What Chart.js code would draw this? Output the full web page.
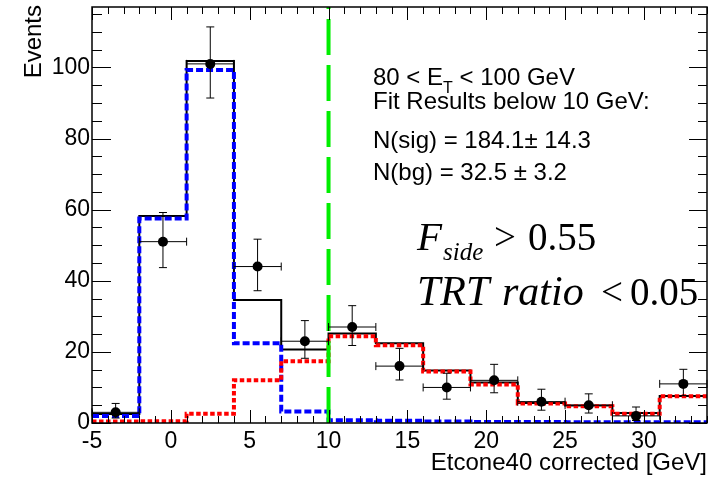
<!DOCTYPE html>
<html>
<head>
<meta charset="utf-8">
<title>Etcone40 corrected</title>
<script src="https://cdn.jsdelivr.net/npm/chart.js@4.4.1/dist/chart.umd.min.js"></script>
<style>
  html, body { margin: 0; padding: 0; background: #fff; }
</style>
</head>
<body>
<canvas id="etcone" width="720" height="480"></canvas>
<script>
// histogram binning [GeV]
var binEdges = [-5, -2, 1, 4, 7, 10, 13, 16, 19, 22, 25, 28, 31, 34];

// data, events per bin with (asymmetric) errors
var dataEvents = [3, 51, 101, 44, 23, 27, 16, 10, 12, 6, 5, 2, 11];
var errUp      = [2.5, 8.2, 10.4, 7.7, 5.8, 6.0, 5.0, 4.0, 4.5, 3.5, 3.2, 2.5, 4.1];
var errDown    = [1.6, 7.3, 9.6, 6.8, 4.8, 5.2, 3.9, 3.3, 3.5, 2.4, 2.2, 1.3, 3.3];

// fit templates
var fitTotal      = [2.5, 58.2, 101.8, 34.6, 20.7, 25.2, 22.4, 14.8, 11.4, 5.6, 4.9, 2.8, 7.6];
var fitSignal     = [2.0, 57.5, 99.3, 22.4, 3.2, 0.8, 0.6, 0.4, 0.3, 0.25, 0.2, 0.2, 0.2];
var fitBackground = [0.4, 0.5, 2.6, 12.0, 17.4, 24.4, 21.9, 14.5, 10.8, 5.5, 4.7, 2.6, 7.5];

var cutValue = 10; // fit region upper edge

var xRange = [-5, 34], yRange = [0, 117];
var xMajor = 5, xMinor = 1, yMajor = 20, yMinor = 5;

var infoLines = ['Fit Results below 10 GeV:', 'N(sig) = 184.1\u00b1 14.3', 'N(bg) = 32.5 \u00b1 3.2'];

var SANS = '"Liberation Sans", Arial, sans-serif';
var SERIF = '"Liberation Serif", "Times New Roman", serif';

// outline points for a stepped histogram
function histPoints(vals) {
    var pts = [];
    for (var i = 0; i < vals.length; i++) {
        pts.push({ x: binEdges[i], y: vals[i] });
    }
    pts.push({ x: binEdges[vals.length], y: vals[vals.length - 1] });
    return pts;
}

var dataPoints = dataEvents.map(function (v, i) {
    return { x: (binEdges[i] + binEdges[i + 1]) / 2, y: v };
});

function histSet(label, vals, color, width, dash) {
    return {
        label: label,
        data: histPoints(vals),
        borderColor: color,
        borderWidth: width,
        borderDash: dash,
        borderCapStyle: 'butt',
        stepped: true,
        fill: false,
        pointRadius: 0,
        pointHitRadius: 0
    };
}

// frame, inner ticks, cut line, error bars and labels
var decorations = {
    id: 'decorations',
    afterDatasetsDraw: function (chart) {
        var ctx = chart.ctx, xs = chart.scales.x, ys = chart.scales.y;
        var a = chart.chartArea;
        var v, p, i;

        // cut line
        ctx.save();
        ctx.strokeStyle = '#00ee00';
        ctx.lineWidth = 4;
        ctx.setLineDash([36, 10]);
        p = xs.getPixelForValue(cutValue);
        ctx.beginPath();
        ctx.moveTo(p, a.bottom);
        ctx.lineTo(p, a.top);
        ctx.stroke();
        ctx.restore();

        // data error bars
        ctx.save();
        ctx.strokeStyle = '#000';
        ctx.lineWidth = 1;
        for (i = 0; i < dataEvents.length; i++) {
            var cx = xs.getPixelForValue(dataPoints[i].x);
            var cy = ys.getPixelForValue(dataEvents[i]);
            var x0 = xs.getPixelForValue(binEdges[i]);
            var x1 = xs.getPixelForValue(binEdges[i + 1]);
            var yt = ys.getPixelForValue(dataEvents[i] + errUp[i]);
            var yb = Math.min(ys.getPixelForValue(dataEvents[i] - errDown[i]), a.bottom);
            ctx.beginPath();
            ctx.moveTo(x0, cy); ctx.lineTo(x1, cy);
            ctx.moveTo(x0, cy - 4); ctx.lineTo(x0, cy + 4);
            ctx.moveTo(x1, cy - 4); ctx.lineTo(x1, cy + 4);
            ctx.moveTo(cx, yt); ctx.lineTo(cx, yb);
            ctx.moveTo(cx - 4, yt); ctx.lineTo(cx + 4, yt);
            ctx.moveTo(cx - 4, yb); ctx.lineTo(cx + 4, yb);
            ctx.stroke();
        }
        ctx.restore();

        // frame with ticks pointing inwards
        ctx.save();
        ctx.strokeStyle = '#000';
        ctx.lineWidth = 1;
        ctx.beginPath();
        for (v = xRange[0]; v <= xRange[1] + 1e-9; v += xMinor) {
            var len = (Math.abs(v % xMajor) < 1e-9) ? 13 : 7;
            p = Math.round(xs.getPixelForValue(v)) + 0.5;
            ctx.moveTo(p, a.bottom); ctx.lineTo(p, a.bottom - len);
            ctx.moveTo(p, a.top); ctx.lineTo(p, a.top + len);
        }
        for (v = yRange[0]; v <= yRange[1] + 1e-9; v += yMinor) {
            var major = Math.abs(v % yMajor) < 1e-9;
            p = Math.round(ys.getPixelForValue(v)) + 0.5;
            ctx.moveTo(a.left, p); ctx.lineTo(a.left + (major ? 19 : 10), p);
            ctx.moveTo(a.right, p); ctx.lineTo(a.right - (major ? 18 : 9), p);
        }
        ctx.stroke();
        ctx.lineWidth = 1.5;
        ctx.strokeRect(a.left, a.top, a.right - a.left, a.bottom - a.top);
        ctx.restore();

        // axis titles
        ctx.save();
        ctx.fillStyle = '#000';
        ctx.font = '24px ' + SANS;
        ctx.textAlign = 'right';
        ctx.textBaseline = 'alphabetic';
        ctx.fillText('Etcone40 corrected [GeV]', a.right, 470);
        ctx.translate(41, 5);
        ctx.rotate(-Math.PI / 2);
        ctx.fillText('Events', 0, 0);
        ctx.restore();

        // fit summary
        ctx.save();
        ctx.fillStyle = '#000';
        ctx.textAlign = 'left';
        ctx.textBaseline = 'alphabetic';
        var tx = 373;
        ctx.font = '24px ' + SANS;
        ctx.fillText('80 < E', tx, 85);
        tx += ctx.measureText('80 < E').width;
        ctx.font = '16px ' + SANS;
        ctx.fillText('T', tx, 93);
        tx += ctx.measureText('T').width;
        ctx.font = '24px ' + SANS;
        ctx.fillText(' < 100 GeV', tx, 85);
        var base = [109, 148, 180];
        for (i = 0; i < infoLines.length; i++) {
            ctx.fillText(infoLines[i], 373, base[i]);
        }

        // selection cuts
        ctx.font = 'italic 41px ' + SERIF;
        ctx.fillText('F', 417, 250);
        ctx.font = 'italic 25px ' + SERIF;
        ctx.fillText('side', 443, 260);
        ctx.font = '39px ' + SERIF;
        ctx.fillText('>', 494, 250);
        ctx.fillText('0.55', 528, 250);
        ctx.font = 'italic 42px ' + SERIF;
        ctx.fillText('TRT', 417, 305);
        ctx.fillText('ratio', 502, 305);
        ctx.font = '39px ' + SERIF;
        ctx.fillText('<', 601, 305);
        ctx.fillText('0.05', 630, 305);
        ctx.restore();
    }
};

// keep the plot frame fixed: no extra room for edge labels
function noEdgePadding(scale) {
    scale.paddingTop = 0;
    scale.paddingBottom = 0;
    scale.paddingLeft = 0;
    scale.paddingRight = 0;
}

var ctxc = document.getElementById('etcone');
var chart = new Chart(ctxc, {
    type: 'line',
    data: {
        datasets: [
            {
                type: 'scatter',
                label: 'Data',
                data: dataPoints,
                pointRadius: 5,
                pointBackgroundColor: '#000',
                pointBorderColor: '#000',
                pointBorderWidth: 0,
                showLine: false
            },
            histSet('Background', fitBackground, '#ff0000', 4, [4.5, 2.5]),
            histSet('Signal', fitSignal, '#0000ff', 4, [7, 3]),
            histSet('Total fit', fitTotal, '#000000', 2, [])
        ]
    },
    options: {
        responsive: false,
        animation: false,
        devicePixelRatio: 1,
        layout: { padding: { top: 7, right: 13, left: 0, bottom: 0 } },
        elements: { line: { tension: 0 } },
        plugins: {
            legend: { display: false },
            tooltip: { enabled: false }
        },
        scales: {
            x: {
                type: 'linear',
                min: xRange[0],
                max: xRange[1],
                grid: { display: false, drawTicks: false },
                border: { display: false },
                ticks: {
                    stepSize: xMajor,
                    includeBounds: false,
                    padding: 5,
                    color: '#000',
                    font: { family: SANS, size: 23 },
                    maxRotation: 0
                },
                afterFit: function (scale) { scale.height = 57; noEdgePadding(scale); }
            },
            y: {
                type: 'linear',
                min: yRange[0],
                max: yRange[1],
                grid: { display: false, drawTicks: false },
                border: { display: false },
                ticks: {
                    stepSize: yMajor,
                    includeBounds: false,
                    padding: 2,
                    color: '#000',
                    font: { family: SANS, size: 23 }
                },
                afterFit: function (scale) { scale.width = 92; noEdgePadding(scale); }
            }
        }
    },
    plugins: [decorations]
});
</script>
</body>
</html>
